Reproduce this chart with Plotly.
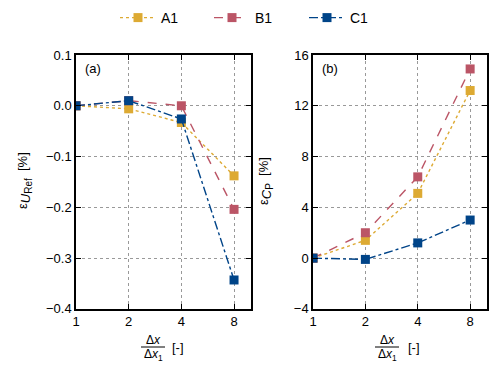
import plotly.graph_objects as go

ratio = [1, 2, 4, 8]
series = ["A1", "B1", "C1"]
u_ref = {
    "A1": [0.0, -0.006, -0.033, -0.138],
    "B1": [0.0, 0.010, 0.000, -0.204],
    "C1": [0.0, 0.010, -0.026, -0.343],
}
cp = {
    "A1": [0.0, 1.4, 5.1, 13.2],
    "B1": [0.0, 2.0, 6.4, 14.9],
    "C1": [0.0, -0.1, 1.2, 3.0],
}
colors = {"A1": "#DDAA33", "B1": "#BB5566", "C1": "#004488"}
dashes = {"A1": "dot", "B1": "dash", "C1": "dashdot"}
legend_ids = {"A1": "legend", "B1": "legend2", "C1": "legend3"}
u_ticks = [-0.4, -0.3, -0.2, -0.1, 0.0, 0.1]
cp_ticks = [-4, 0, 4, 8, 12, 16]

FONT = "Liberation Sans, Arial, sans-serif"
fig = go.Figure()
for s in series:
    fig.add_trace(go.Scatter(x=ratio, y=u_ref[s], name=s, mode="lines+markers",
                             line=dict(color=colors[s], dash=dashes[s], width=1.4),
                             marker=dict(symbol="square", size=9, color=colors[s]),
                             xaxis="x", yaxis="y", legendgroup=s, legend=legend_ids[s]))
    fig.add_trace(go.Scatter(x=ratio, y=cp[s], name=s, mode="lines+markers",
                             line=dict(color=colors[s], dash=dashes[s], width=1.4),
                             marker=dict(symbol="square", size=9, color=colors[s]),
                             xaxis="x2", yaxis="y2", legendgroup=s, showlegend=False))

axcommon = dict(showline=True, linecolor="black", linewidth=1.5, mirror="allticks",
                ticks="inside", ticklen=5, tickcolor="black", showgrid=True,
                gridcolor="#999999", griddash="dot", gridwidth=1, zeroline=False,
                automargin=False,
                tickfont=dict(size=13, color="black", family=FONT))
xcommon = dict(type="log", range=[0, 1.0], tickvals=ratio, ticktext=[str(v) for v in ratio], **axcommon)

leg_common = dict(orientation="h", xanchor="left", y=1-18/374, yanchor="middle",
                  font=dict(size=14, family=FONT), itemwidth=36, bgcolor="rgba(0,0,0,0)")

fig.update_layout(
    template="none",
    width=500, height=374, margin=dict(l=0, r=0, t=0, b=0, autoexpand=False),
    plot_bgcolor="white", paper_bgcolor="white",
    font=dict(family=FONT, color="black"),
    xaxis=dict(domain=[0.152, 0.502], anchor="y", **xcommon),
    xaxis2=dict(domain=[0.626, 0.974], anchor="y2", **xcommon),
    yaxis=dict(domain=[0.174, 0.853], anchor="x", range=[-0.4, 0.1], tickvals=u_ticks,
               tickformat=".1f", **axcommon),
    yaxis2=dict(domain=[0.174, 0.853], anchor="x2", range=[-4, 16], tickvals=cp_ticks, **axcommon),
    legend=dict(x=115/500, **leg_common),
    legend2=dict(x=209/500, **leg_common),
    legend3=dict(x=304/500, **leg_common),
    showlegend=True,
)

ann = []
for ax, lab in [("x", "(a)"), ("x2", "(b)")]:
    yax = "y" if ax == "x" else "y2"
    ann.append(dict(text=lab, xref=f"{ax} domain", yref=f"{yax} domain", x=0.04, y=0.945,
                    xanchor="left", yanchor="middle", showarrow=False, font=dict(size=13)))
ylab_u = ("ε<sub><span style='font-size:13px'><i>U</i><sub>"
          "<span style='font-size:10px'>Ref</span></sub></span></sub>  [%]")
ylab_c = ("ε<sub><span style='font-size:13px'><i>C</i><sub>"
          "<span style='font-size:10px'>P</span></sub></span></sub>  [%]")
ann.append(dict(text=ylab_u, xref="paper", yref="paper",
                x=25/500, y=1-181/374, xanchor="center", yanchor="middle",
                textangle=-90, showarrow=False, font=dict(size=13)))
ann.append(dict(text=ylab_c, xref="paper", yref="paper",
                x=266/500, y=1-181/374, xanchor="center", yanchor="middle",
                textangle=-90, showarrow=False, font=dict(size=13)))
for cx, rx in [(153, 178), (387, 414)]:
    ann.append(dict(text="Δ<i>x</i>", xref="paper", yref="paper", x=cx/500, y=1-340/374,
                    xanchor="center", yanchor="middle", showarrow=False, font=dict(size=12)))
    ann.append(dict(text="Δ<i>x</i><sub>1</sub>", xref="paper", yref="paper", x=cx/500, y=1-355/374,
                    xanchor="center", yanchor="middle", showarrow=False, font=dict(size=12)))
    ann.append(dict(text="[-]", xref="paper", yref="paper", x=rx/500, y=1-347/374,
                    xanchor="center", yanchor="middle", showarrow=False, font=dict(size=13)))
fig.update_layout(annotations=ann)
shapes = []
for cx in [153, 387]:
    shapes.append(dict(type="line", xref="paper", yref="paper", x0=(cx-12)/500, x1=(cx+12)/500,
                       y0=1-347/374, y1=1-347/374, line=dict(color="black", width=1)))
fig.update_layout(shapes=shapes)

fig.write_html("out.html")
